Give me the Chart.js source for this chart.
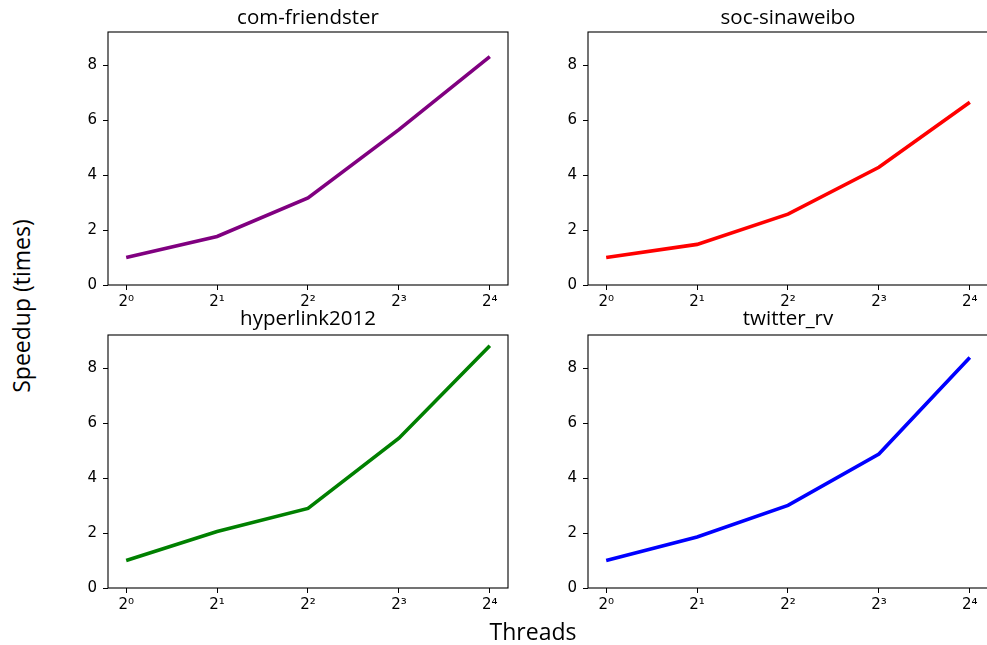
<!DOCTYPE html>
<html>
<head>
<meta charset="utf-8">
<title>Speedup vs threads</title>
<script src="https://cdn.jsdelivr.net/npm/chart.js@4.4.1/dist/chart.umd.min.js"></script>
<style>
  html, body { margin: 0; padding: 0; background: #fff; overflow: hidden; }
  body { width: 987px; height: 645px; position: relative; }
  canvas { position: absolute; }
  .axis-label {
    position: absolute;
    font-family: "Open Sans", "Noto Sans", sans-serif;
    font-size: 23px;
    line-height: 1;
    color: #000;
    white-space: nowrap;
  }
</style>
</head>
<body>
<canvas id="c0" width="480" height="330" style="left:40px; top:0px"></canvas>
<canvas id="c1" width="470" height="330" style="left:520px; top:0px"></canvas>
<canvas id="c2" width="480" height="342" style="left:40px; top:303px"></canvas>
<canvas id="c3" width="470" height="342" style="left:520px; top:303px"></canvas>
<div class="axis-label" style="left:533px; top:631px; transform:translate(-50%,-50%)">Threads</div>
<div class="axis-label" style="left:21px; top:306px; transform:translate(-50%,-50%) rotate(-90deg)">Speedup (times)</div>

<script>
// thread counts (x axis, log2) and speedup per graph
const threads = [1, 2, 4, 8, 16];
const friendster = [1.0, 1.77, 3.17, 5.66, 8.32];
const sinaweibo = [1.0, 1.48, 2.58, 4.29, 6.66];
const hyperlink = [1.0, 2.06, 2.90, 5.46, 8.83];
const twitter = [1.0, 1.86, 3.01, 4.88, 8.40];
const yTicks = [0, 2, 4, 6, 8];
const titles = ['com-friendster', 'soc-sinaweibo', 'hyperlink2012', 'twitter_rv'];
const colors = ['#800080', '#ff0000', '#008000', '#0000ff'];

const sup = ['\u2070', '\u00b9', '\u00b2', '\u00b3', '\u2074'];
const tickFont = { family: 'DejaVu Sans', size: 15 };

// box around each plot area, like matplotlib spines
const framePlugin = {
  id: 'frame',
  afterDraw(chart) {
    const a = chart.chartArea;
    const ctx = chart.ctx;
    ctx.save();
    ctx.strokeStyle = '#000';
    ctx.lineWidth = 1.1;
    ctx.strokeRect(a.left, a.top, a.right - a.left, a.bottom - a.top);
    ctx.restore();
  }
};

function makeChart(id, title, values, color, xHeight, padRight, titlePad) {
  return new Chart(document.getElementById(id), {
    type: 'line',
    data: {
      datasets: [{
        label: title,
        data: threads.map((t, i) => ({ x: t, y: values[i] })),
        borderColor: color,
        borderWidth: 3.6,
        pointRadius: 0,
        tension: 0,
        fill: false
      }]
    },
    options: {
      responsive: false,
      animation: false,
      layout: { padding: { left: 0, right: padRight, top: 0, bottom: 0 } },
      plugins: {
        legend: { display: false },
        tooltip: { enabled: false },
        title: {
          display: true,
          text: title,
          // only as wide as the plot area, so the text is centred over it
          fullSize: false,
          color: '#000',
          font: { family: 'Open Sans', size: 20.5, weight: 'normal', lineHeight: 1.2 },
          padding: titlePad
        }
      },
      scales: {
        x: {
          type: 'logarithmic',
          min: Math.pow(2, -0.2),
          max: Math.pow(2, 4.2),
          afterBuildTicks: scale => { scale.ticks = threads.map(v => ({ value: v })); },
          afterFit: scale => { scale.height = xHeight; },
          grid: { drawOnChartArea: false, drawTicks: true, tickLength: 5, color: '#000', lineWidth: 1 },
          border: { display: false },
          ticks: {
            color: '#000',
            font: tickFont,
            padding: 3,
            maxRotation: 0,
            autoSkip: false,
            callback: v => '2' + sup[Math.round(Math.log2(v))]
          }
        },
        y: {
          min: 0,
          max: 9.22,
          afterBuildTicks: scale => { scale.ticks = yTicks.map(v => ({ value: v })); },
          afterFit: scale => { scale.width = 68; },
          grid: { drawOnChartArea: false, drawTicks: true, tickLength: 5, color: '#000', lineWidth: 1 },
          border: { display: false },
          ticks: { color: '#000', font: tickFont, padding: 6 }
        }
      }
    },
    plugins: [framePlugin]
  });
}

makeChart('c0', titles[0], friendster, colors[0], 45, 12, { top: 5.5, bottom: 1.9 });
makeChart('c1', titles[1], sinaweibo, colors[1], 45, 2, { top: 5.5, bottom: 1.9 });
makeChart('c2', titles[2], hyperlink, colors[2], 57, 12, { top: 3.5, bottom: 3.9 });
makeChart('c3', titles[3], twitter, colors[3], 57, 2, { top: 3.5, bottom: 3.9 });
</script>
</body>
</html>
